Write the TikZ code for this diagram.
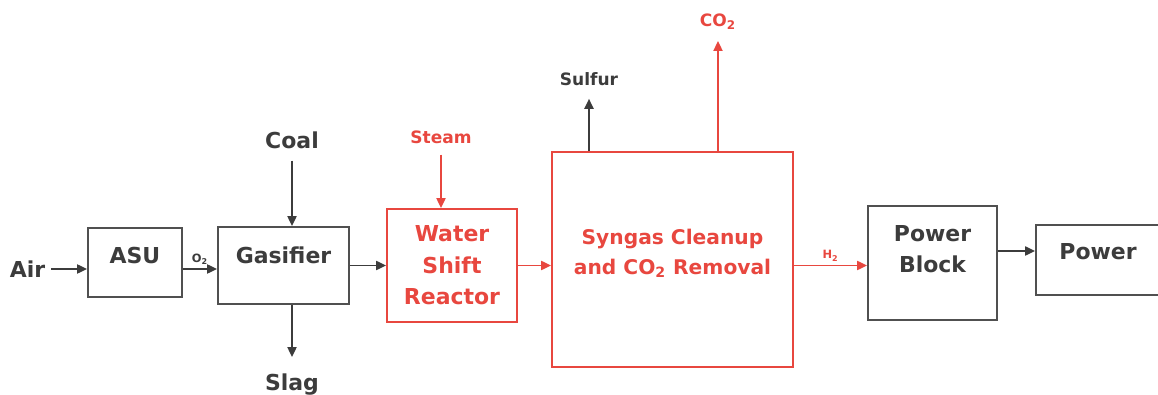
\documentclass[tikz,border=0pt]{standalone}
\usepackage{fontspec}
\setmainfont{DejaVu Sans}
\usepackage{xcolor}
\usepackage{tikz}
\usetikzlibrary{arrows.meta}

\definecolor{ink}{HTML}{3C3C3C}
\definecolor{hot}{HTML}{E8473F}

\begin{document}
\begin{tikzpicture}[
        box/.style={draw=ink!90, line width=1pt, inner sep=0pt, align=center,
                    text=ink, font=\bfseries\fontsize{12.5}{18}\selectfont},
        hotbox/.style={box, draw=hot, text=hot},
        lbl/.style={text=ink, font=\bfseries\fontsize{12.5}{15}\selectfont},
        small/.style={font=\bfseries\fontsize{9.7}{12}\selectfont},
        tiny/.style={font=\bfseries\fontsize{6.5}{7}\selectfont, inner sep=2pt},
        arr/.style={-{Triangle[length=0.2cm, width=0.18cm]}, line width=1.1pt, draw=ink},
        hotarr/.style={arr, draw=hot}
    ]
        \useasboundingbox (0,0) rectangle (23.16,7.88);

        \node[box, minimum width=1.88cm, minimum height=1.38cm, text depth=0.3cm]  (asu) at (2.70,2.63) {ASU};
        \node[box, minimum width=2.62cm, minimum height=1.54cm, text depth=0.42cm] (gas) at (5.67,2.57) {Gasifier};
        \node[hotbox, minimum width=2.6cm, minimum height=2.26cm] (wsr) at (9.04,2.57) {Water\\Shift\\Reactor};
        \node[hotbox, minimum width=4.82cm, minimum height=4.3cm, text depth=0.3cm,
              font=\bfseries\fontsize{11.5}{17}\selectfont] (syn) at (13.45,2.69)
              {Syngas Cleanup\\and CO\textsubscript{2} Removal};
        \node[box, minimum width=2.58cm, minimum height=2.28cm, text depth=0.56cm] (pb)  at (18.65,2.62) {Power\\Block};
        \node[box, minimum width=2.48cm, minimum height=1.4cm, text depth=0.36cm]  (pow) at (21.96,2.68) {Power};

        % feeds and products
        \node[lbl] (air) at (0.55,2.5) {Air};
        \node[lbl] (coal) at (5.84,5.08) {Coal};
        \node[lbl, anchor=base] (slag) at (5.84,0.08) {Slag};
        \node[lbl, small, text=hot] (steam) at (8.82,5.14) {Steam};
        \node[lbl, small] (sulfur) at (11.78,6.3) {Sulfur};
        \node[lbl, small, text=hot] (co2) at (14.36,7.44) {CO\textsubscript{2}};

        \draw[arr] (air) -- (air -| asu.west);
        \draw[arr] (asu.east |- air) -- node[tiny, above, text=ink] {O\textsubscript{2}} (gas.west |- air);
        \draw[arr, shorten <=0.12cm] (coal) -- (coal |- gas.north);
        \draw[arr, shorten >=0.2cm] (gas.south -| slag) -- (slag);
        \draw[arr] (gas) -- (wsr);
        \draw[hotarr, shorten <=0.1cm] (steam) -- (steam |- wsr.north);
        \draw[hotarr] (wsr) -- (wsr -| syn.west);
        \draw[arr, shorten >=0.14cm] (syn.north -| sulfur) -- (sulfur);
        \draw[hotarr, shorten >=0.1cm] (syn.north -| co2) -- (co2);
        \draw[hotarr] (syn.east |- wsr) -- node[tiny, above, text=hot] {H\textsubscript{2}} (pb.west |- wsr);
        \coordinate (pbout) at ([yshift=0.24cm]pb.east);
        \draw[arr] (pbout) -- (pbout -| pow.west);
    \end{tikzpicture}
\end{document}
